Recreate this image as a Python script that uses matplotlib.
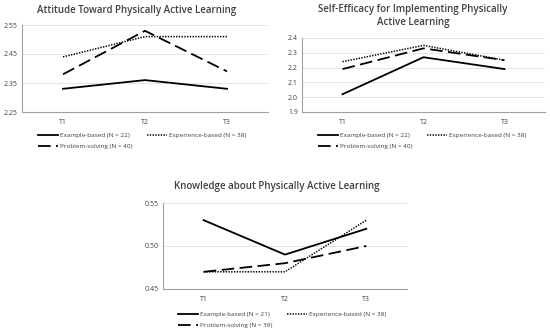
import matplotlib
matplotlib.use("Agg")
import matplotlib.pyplot as plt

plt.rcParams['font.family'] = ['Open Sans', 'DejaVu Sans']

times = ["T1", "T2", "T3"]

att_example = [2.33, 2.36, 2.33]
att_experience = [2.44, 2.51, 2.51]
att_problem = [2.38, 2.53, 2.39]
att_ticks = [2.25, 2.35, 2.45, 2.55]

se_example = [2.02, 2.27, 2.19]
se_experience = [2.24, 2.35, 2.25]
se_problem = [2.19, 2.33, 2.25]
se_ticks = [1.9, 2.0, 2.1, 2.2, 2.3, 2.4]

kn_example = [0.53, 0.49, 0.52]
kn_experience = [0.47, 0.47, 0.53]
kn_problem = [0.47, 0.48, 0.50]
kn_ticks = [0.45, 0.50, 0.55]

labels_ab = ["Example-based (N = 22)", "Experience-based (N = 38)", "Problem-solving (N = 40)"]
labels_c = ["Example-based (N = 21)", "Experience-based (N = 38)", "Problem-solving (N = 39)"]

fig = plt.figure(figsize=(5.5, 3.36), dpi=100)
W, H = 550, 336

def ax_px(l, t, r, b):
    return fig.add_axes([l / W, 1 - b / H, (r - l) / W, (b - t) / H])

def style(ax, ticks, fmt):
    ax.set_xlim(-0.5, 2.5)
    ax.set_ylim(ticks[0], ticks[-1])
    ax.set_yticks(ticks)
    ax.set_yticklabels([fmt.format(t) for t in ticks])
    ax.set_xticks(range(3))
    ax.set_xticklabels(times)
    ax.tick_params(length=0, labelsize=5, colors='#404040', pad=3)
    ax.tick_params(axis='x', pad=5)
    for s in ['top', 'right']:
        ax.spines[s].set_visible(False)
    for s in ['left', 'bottom']:
        ax.spines[s].set_color('#a0a0a0')
        ax.spines[s].set_linewidth(0.8)
    ax.grid(axis='y', color='#e0e0e0', linewidth=0.6)
    ax.set_axisbelow(True)

def draw(ax, ex, exp, prob, labels, lx, ty):
    x = list(range(3))
    h1, = ax.plot(x, ex, color='black', linewidth=1.3, linestyle='-')
    h2, = ax.plot(x, exp, color='black', linewidth=1.1, linestyle=(0, (0.9, 0.9)))
    h3, = ax.plot(x, prob, color='black', linewidth=1.3, linestyle=(0, (7, 3)))
    leg = ax.legend([h1, h3, h2], [labels[0], labels[2], labels[1]], ncol=2, frameon=False,
                    loc='upper left', bbox_to_anchor=(lx / W, 1 - ty / H),
                    bbox_transform=fig.transFigure, fontsize=4.6, handlelength=3.2,
                    handletextpad=0.3, columnspacing=2.2, labelspacing=0.85,
                    borderpad=0, borderaxespad=0)
    for t in leg.get_texts():
        t.set_color('#404040')

ax1 = ax_px(22, 25, 268, 112)
style(ax1, att_ticks, "{:.2f}")
draw(ax1, att_example, att_experience, att_problem, labels_ab, 38, 133)
fig.text(137 / W, 1 - 10 / H, "Attitude Toward Physically Active Learning", ha='center', va='center',
         fontsize=7.0, fontweight='semibold', color='#404040')

ax2 = ax_px(302, 38, 545, 112)
style(ax2, se_ticks, "{:.1f}")
draw(ax2, se_example, se_experience, se_problem, labels_ab, 318, 133)
fig.text(413 / W, 1 - 16 / H, "Self-Efficacy for Implementing Physically\nActive Learning", ha='center', va='center',
         fontsize=7.0, fontweight='semibold', color='#404040', linespacing=1.3)

ax3 = ax_px(163, 203, 407, 289)
style(ax3, kn_ticks, "{:.2f}")
draw(ax3, kn_example, kn_experience, kn_problem, labels_c, 178, 312)
fig.text(277 / W, 1 - 187 / H, "Knowledge about Physically Active Learning", ha='center', va='center',
         fontsize=7.0, fontweight='semibold', color='#404040')

fig.savefig("out.png", dpi=100)
